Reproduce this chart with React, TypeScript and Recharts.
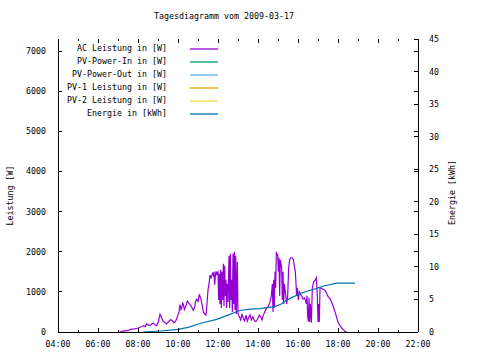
import React from 'react';
import { LineChart, Line, XAxis, YAxis, Legend } from 'recharts';

// ---- data ----
const AC_TIME = [
  '07:00','07:06','07:15','07:31','07:41','07:50','08:01','08:10','08:16','08:22',
  '08:26','08:31','08:36','08:41','08:46','08:51','08:56','09:01','09:06','09:11',
  '09:16','09:21','09:26','09:31','09:38','09:43','09:48','09:53','09:58','10:03',
  '10:06','10:09','10:11','10:14','10:16','10:19','10:21','10:25','10:28','10:31',
  '10:36','10:41','10:46','10:50','10:53','10:56','11:00','11:04','11:07','11:09',
  '11:13','11:16','11:21','11:24','11:27','11:30','11:33','11:36','11:39','11:41',
  '11:44','11:46','11:48','11:50','11:52','11:54','11:56','11:58','12:00','12:02',
  '12:04','12:06','12:08','12:10','12:12','12:14','12:16','12:18','12:20','12:22',
  '12:24','12:26','12:28','12:30','12:33','12:35','12:37','12:39','12:41','12:43',
  '12:45','12:47','12:49','12:51','12:53','12:55','12:58','13:00','13:04','13:08',
  '13:12','13:16','13:20','13:24','13:28','13:32','13:36','13:40','13:44','13:48',
  '13:52','13:56','14:00','14:04','14:08','14:12','14:16','14:20','14:26','14:31',
  '14:36','14:40','14:43','14:45','14:47','14:49','14:51','14:53','14:55','14:57',
  '14:59','15:01','15:03','15:05','15:07','15:09','15:11','15:13','15:15','15:17',
  '15:19','15:22','15:26','15:29','15:32','15:35','15:38','15:42','15:46','15:49',
  '15:52','15:54','15:56','15:58','16:01','16:04','16:07','16:11','16:15','16:19',
  '16:22','16:25','16:27','16:29','16:31','16:33','16:35','16:37','16:40','16:43',
  '16:47','16:52','16:55','16:58','17:00','17:02','17:04','17:06','17:11','17:16',
  '17:21','17:26','17:31','17:36','17:41','17:46','17:51','17:54','17:58','18:01',
  '18:06','18:11','18:16','18:21','18:26',
];
const AC_W = [
  0, 0, 20, 40, 70, 80, 100, 130, 160, 140,
  200, 170, 165, 200, 220, 180, 160, 250, 440, 350,
  260, 230, 200, 250, 310, 280, 230, 270, 380, 500,
  680, 560, 600, 720, 700, 560, 600, 680, 770, 740,
  680, 620, 540, 620, 780, 820, 760, 940, 860, 820,
  640, 500, 440, 420, 700, 1050, 1200, 1420, 1350, 1390,
  1460, 1420, 1500, 1180, 1400, 1510, 1420, 1480, 1500, 800,
  1450, 700, 1550, 600, 1500, 800, 1700, 650, 1650, 900,
  1300, 600, 1200, 750, 1900, 600, 1950, 800, 1300, 500,
  1950, 700, 2000, 550, 1900, 450, 1750, 450, 380, 300,
  450, 330, 280, 420, 270, 360, 430, 300, 380, 300,
  260, 280, 350, 420, 380, 300, 420, 500, 600, 640,
  750, 900, 1200, 500, 1300, 600, 1500, 1100, 2000, 1900,
  1950, 1500, 1850, 900, 1800, 1700, 1600, 800, 1500, 700,
  1200, 1000, 700, 900, 1600, 1800, 1850, 1850, 1800, 1650,
  1500, 1200, 900, 1100, 800, 1000, 950, 900, 820, 850,
  800, 700, 900, 400, 260, 850, 250, 700, 230, 1100,
  1250, 1300, 1350, 900, 250, 700, 250, 1100, 1090, 1060,
  1040, 960, 870, 830, 740, 630, 500, 420, 300, 230,
  160, 100, 60, 20, 0,
];
const EN_TIME = [
  '08:16','09:06','10:01','10:30','11:06','11:56','12:30','13:06','13:36','14:06',
  '14:51','15:10','15:26','15:46','16:06','16:30','16:56','17:20','17:56','18:51',
];
const EN_KWH = [
  0, 0.15, 0.4, 0.7, 1.3, 1.95, 2.6, 3.3, 3.5, 3.6,
  3.9, 4.3, 4.9, 5.4, 5.9, 6.3, 6.7, 7.1, 7.5, 7.5,
];
const SERIES_NAMES = [
  'AC Leistung in [W]',
  'PV-Power-In in [W]',
  'PV-Power-Out in [W]',
  'PV-1 Leistung in [W]',
  'PV-2 Leistung in [W]',
  'Energie in [kWh]',
];
const SERIES_COLORS = ['#9400d3', '#009e73', '#56b4e9', '#e69f00', '#f0e442', '#0072b2'];
const HOUR_TICKS = [4,5,6,7,8,9,10,11,12,13,14,15,16,17,18,19,20,21,22];
const POWER_TICKS = [0, 1000, 2000, 3000, 4000, 5000, 6000, 7000];
const ENERGY_TICKS = [0, 5, 10, 15, 20, 25, 30, 35, 40, 45];
const TITLE = 'Tagesdiagramm vom 2009-03-17';

// ---- helpers ----
const toHours = (s: string) => {
  const [h, m] = s.split(':').map(Number);
  return h + m / 60;
};
const acData = AC_TIME.map((t, i) => ({ t: toHours(t), v: AC_W[i] }));
const enData = EN_TIME.map((t, i) => ({ t: toHours(t), v: EN_KWH[i] }));
const seriesData: any[][] = [acData, [], [], [], [], enData];

const FONT = "'DejaVu Sans Mono', monospace";
const FS = 8.3;
const W = 480;
const H = 360;
const M_TOP = 39;
const X_AXIS_H = 28;
const Y_LEFT_W = 58;
const Y_RIGHT_W = 62;
const PLOT_W = W - Y_LEFT_W - Y_RIGHT_W;
const PLOT_H = H - M_TOP - X_AXIS_H;

const pad2 = (n: number) => (n < 10 ? '0' + n : '' + n);

const BottomTick = (props: any) => {
  const { x, y, payload } = props;
  const h = payload.value;
  const major = h % 2 === 0;
  const len = major ? 4 : 2;
  return (
    <g>
      <line x1={x} y1={y} x2={x} y2={y - len} stroke="#000" shapeRendering="crispEdges" />
      <line x1={x} y1={y - PLOT_H} x2={x} y2={y - PLOT_H + len} stroke="#000" shapeRendering="crispEdges" />
      {major && (
        <text x={x} y={y + 15} textAnchor="middle" fontFamily={FONT} fontSize={FS} fill="#000">
          {pad2(h) + ':00'}
        </text>
      )}
    </g>
  );
};

const LeftTick = (props: any) => {
  const { x, y, payload } = props;
  return (
    <g>
      <line x1={x} y1={y} x2={x + 4} y2={y} stroke="#000" shapeRendering="crispEdges" />
      <line x1={x + PLOT_W} y1={y} x2={x + PLOT_W - 4} y2={y} stroke="#000" shapeRendering="crispEdges" />
      <text x={x - 12} y={y + 3} textAnchor="end" fontFamily={FONT} fontSize={FS} fill="#000">
        {payload.value}
      </text>
    </g>
  );
};

const RightTick = (props: any) => {
  const { x, y, payload } = props;
  return (
    <g>
      <line x1={x} y1={y} x2={x - 4} y2={y} stroke="#000" shapeRendering="crispEdges" />
      <text x={x + 11} y={y + 3} textAnchor="start" fontFamily={FONT} fontSize={FS} fill="#000">
        {payload.value}
      </text>
    </g>
  );
};

const renderLegend = (props: any) => {
  const payload: any[] = props.payload || [];
  const items = SERIES_NAMES.map((n, i) => {
    const p = payload.find((q) => q.value === n);
    return { value: n, color: p ? p.color : SERIES_COLORS[i] };
  });
  return (
    <svg width={W} height={130} style={{ display: 'block' }}>
      {items.map((p, i) => {
        const y = 49 + i * 13;
        return (
          <g key={p.value}>
            <text x={167} y={y + 2} textAnchor="end" fontFamily={FONT} fontSize={FS} fill="#000">
              {p.value}
            </text>
            <line x1={190} x2={218} y1={y} y2={y} stroke={p.color} strokeWidth={1.3} />
          </g>
        );
      })}
    </svg>
  );
};

const leftLabel = (props: any) => {
  const vb = props.viewBox || { x: 0, y: M_TOP, width: Y_LEFT_W, height: PLOT_H };
  const cx = vb.x + 10;
  const cy = vb.y + vb.height / 2 + 10;
  return (
    <text x={cx} y={cy} transform={`rotate(-90, ${cx}, ${cy})`} textAnchor="middle" dominantBaseline="central"
      fontFamily={FONT} fontSize={FS} fill="#000">
      Leistung [W]
    </text>
  );
};

const rightLabel = (props: any) => {
  const vb = props.viewBox || { x: W - Y_RIGHT_W, y: M_TOP, width: Y_RIGHT_W, height: PLOT_H };
  const cx = vb.x + 34;
  const cy = vb.y + vb.height / 2 + 7;
  return (
    <text x={cx} y={cy} transform={`rotate(-90, ${cx}, ${cy})`} textAnchor="middle" dominantBaseline="central"
      fontFamily={FONT} fontSize={FS} fill="#000">
      Energie [kWh]
    </text>
  );
};

export default function App() {
  return (
    <div style={{ position: 'absolute', left: 0, top: 0, width: W, height: H, background: '#fff' }}>
      <svg width={W} height={30} style={{ position: 'absolute', left: 0, top: 0 }}>
        <text x={224} y={19} textAnchor="middle" fontFamily={FONT} fontSize={FS} fill="#000">
          {TITLE}
        </text>
      </svg>
      <LineChart width={W} height={H} margin={{ top: M_TOP, right: 0, bottom: 0, left: 0 }}>
        <XAxis
          xAxisId="b"
          type="number"
          dataKey="t"
          domain={[4, 22]}
          ticks={HOUR_TICKS}
          interval={0}
          height={X_AXIS_H}
          allowDataOverflow
          tickLine={false}
          tickSize={0}
          tickMargin={0}
          tick={<BottomTick />}
          axisLine={{ stroke: '#000', shapeRendering: 'crispEdges' } as any}
        />
        <XAxis
          xAxisId="top"
          orientation="top"
          type="number"
          dataKey="t"
          domain={[4, 22]}
          height={0}
          tick={false}
          tickLine={false}
          allowDataOverflow
          axisLine={{ stroke: '#000', shapeRendering: 'crispEdges' } as any}
        />
        <YAxis
          yAxisId="p"
          type="number"
          domain={[0, 7300]}
          ticks={POWER_TICKS}
          interval={0}
          width={Y_LEFT_W}
          allowDataOverflow
          tickLine={false}
          tickSize={0}
          tickMargin={0}
          tick={<LeftTick />}
          axisLine={{ stroke: '#000', shapeRendering: 'crispEdges' } as any}
          label={leftLabel}
        />
        <YAxis
          yAxisId="e"
          orientation="right"
          type="number"
          domain={[0, 45]}
          ticks={ENERGY_TICKS}
          interval={0}
          width={Y_RIGHT_W}
          allowDataOverflow
          tickLine={false}
          tickSize={0}
          tickMargin={0}
          tick={<RightTick />}
          axisLine={{ stroke: '#000', shapeRendering: 'crispEdges' } as any}
          label={rightLabel}
        />
        {SERIES_NAMES.map((n, i) => (
          <Line
            key={n}
            xAxisId="b"
            yAxisId={i === 5 ? 'e' : 'p'}
            data={seriesData[i]}
            dataKey="v"
            name={n}
            type="linear"
            stroke={SERIES_COLORS[i]}
            strokeWidth={1.2}
            dot={false}
            activeDot={false}
            isAnimationActive={false}
          />
        ))}
        <Legend
          layout="vertical"
          align="center"
          verticalAlign="middle"
          content={renderLegend}
          wrapperStyle={{ left: 0, top: 0, width: W, height: 130, pointerEvents: 'none' }}
        />
      </LineChart>
    </div>
  );
}
